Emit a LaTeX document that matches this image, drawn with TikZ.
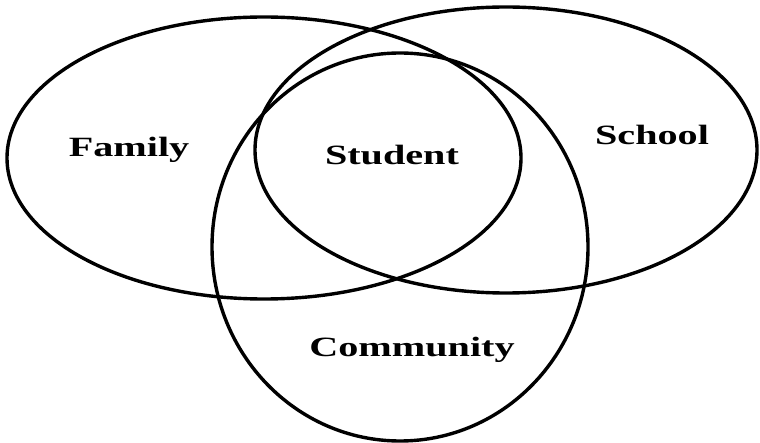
\documentclass[tikz,border=0pt]{standalone}
\usepackage{fontspec}
\setmainfont{Liberation Serif}

\begin{document}
\begin{tikzpicture}[x=1bp, y=-1bp]
\tikzset{ovale/.style={draw, line width=3.4bp},
  etiquette/.style={anchor=base, inner sep=0pt, xscale=1.44, transform shape,
    font=\fontsize{28}{30}\selectfont\bfseries}}
\useasboundingbox (0, 0) rectangle (760, 443);
\draw[ovale] (264, 158) ellipse [x radius=257, y radius=141];
\draw[ovale] (506, 150) ellipse [x radius=251, y radius=143];
\draw[ovale] (400, 247) ellipse [x radius=188, y radius=194];
\node[etiquette] (Fam) at (129, 157) {Family};
\node[etiquette] (Stu) at (392, 165) {Student};
\node[etiquette] (Sch) at (652, 145) {School};
\node[etiquette] (Com) at (412, 357) {Community};
\end{tikzpicture}
\end{document}
